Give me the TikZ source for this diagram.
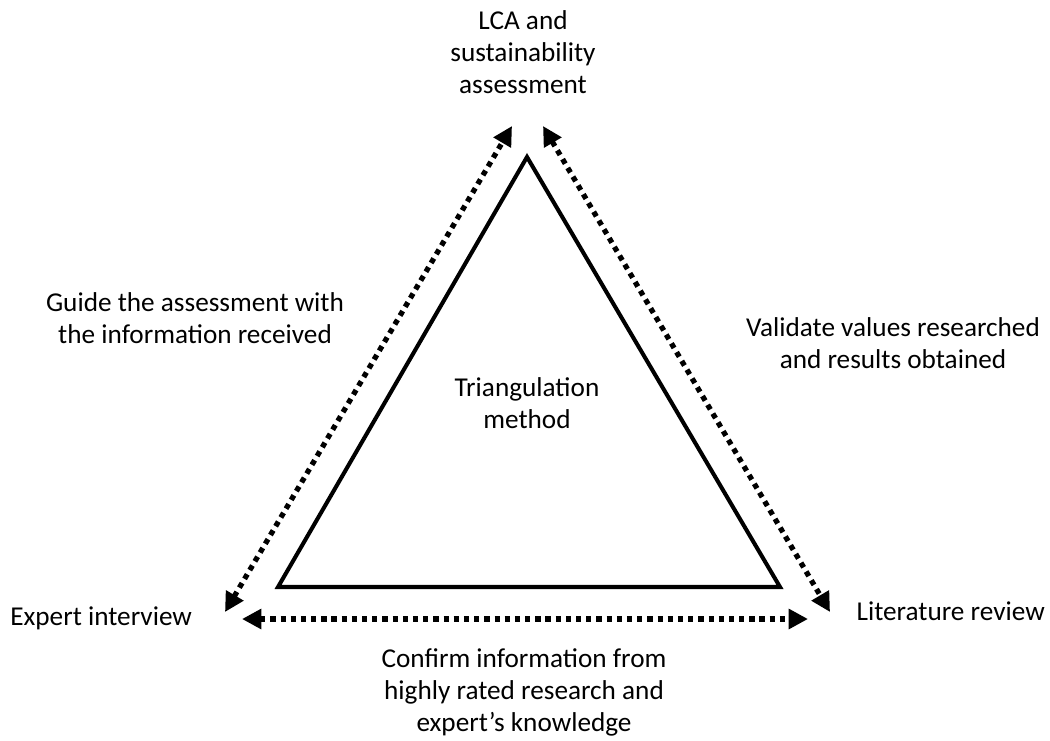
\documentclass[tikz,border=0pt]{standalone}
\usepackage{fontspec}
\setmainfont{Carlito}
\usepackage{tikz}
\usetikzlibrary{arrows.meta,positioning}
\definecolor{FigInk}{HTML}{000000}

\begin{document}
\begin{tikzpicture}[x=0.02cm,y=-0.02cm,
  tri/.style={draw=FigInk,line width=2.3pt,line join=miter},
  dotarr/.style={{Triangle[length=11pt,width=11pt]}-{Triangle[length=11pt,width=11pt]},
    draw=FigInk,line width=3pt,dash pattern=on 3pt off 2.8pt},
  lbl/.style={font=\fontsize{15.5}{18.2}\selectfont,text=FigInk,align=center,inner sep=0pt}
]
\useasboundingbox (0,0) rectangle (1050,740);
% triangle corners
\coordinate (top) at (527,157);
\coordinate (bl)  at (278,587);
\coordinate (br)  at (780,587);
\draw[tri] (top)--(bl)--(br)--cycle;
% arrow ends
\coordinate (lTop) at (512,126);
\coordinate (lBot) at (225,612);
\coordinate (rTop) at (543,126);
\coordinate (rBot) at (830,612);
\coordinate (bL)   at (242,619);
\coordinate (bR)   at (808,619);
\draw[dotarr] (lBot)--(lTop);
\draw[dotarr] (rTop)--(rBot);
\draw[dotarr] (bL)--(bR);
% labels
\node[lbl] (lca)  at (523,52)  {LCA and\\sustainability\\assessment};
\node[lbl] (tri)  at (527,403) {Triangulation\\method};
\node[lbl] (guide) at (195,318) {Guide the assessment with\\the information received};
\node[lbl] (valid) at (893,343) {Validate values researched\\and results obtained};
\node[lbl,anchor=west] (expert) at (10,618) {Expert interview};
\node[lbl,anchor=east] (lit)    at (1045,611) {Literature review};
\node[lbl] (conf) at (524,692) {Confirm information from\\highly rated research and\\expert’s knowledge};
\end{tikzpicture}
\end{document}
